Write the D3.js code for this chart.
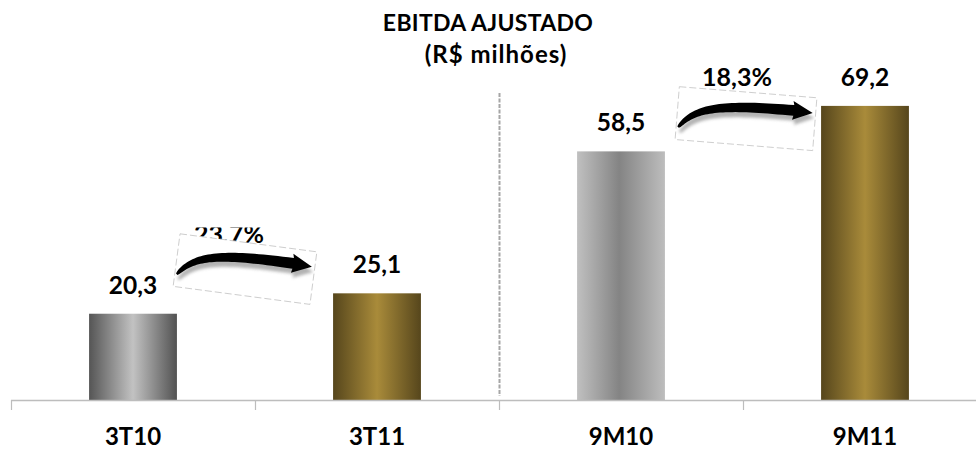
<!DOCTYPE html>
<html>
<head>
<meta charset="utf-8">
<script src="https://cdn.jsdelivr.net/npm/d3@7"></script>
<style>
  body { margin: 0; background: #fff; }
  svg { display: block; }
  text { font-family: Lato, "Open Sans", "DejaVu Sans", sans-serif; font-weight: 700; fill: #000; }
</style>
</head>
<body>
<script>
// ---- data ----
const categories = ["3T10", "3T11", "9M10", "9M11"];
const values = [20.3, 25.1, 58.5, 69.2];
const valueLabels = ["20,3", "25,1", "58,5", "69,2"];
const barStyles = ["grayDark", "gold", "grayLight", "gold"];
const growthLabels = ["23,7%", "18,3%"];
const growthPairs = [[0, 1], [2, 3]];
const titleLines = ["EBITDA AJUSTADO", "(R$ milhões)"];

// ---- layout ----
const W = 976, H = 450;
const baseY = 400;
const svg = d3.select("body").append("svg").attr("width", W).attr("height", H);
const defs = svg.append("defs");

const x = d3.scaleBand().domain(categories).range([11, 987]).paddingInner(0.64).paddingOuter(0.32);
const y = d3.scaleLinear().domain([0, 80]).range([baseY, 60]);
const bw = x.bandwidth();

// horizontal gradients for the cylinder-like bars
const gradients = {
  grayDark: [["0%", "#555555"], ["50%", "#c2c2c2"], ["100%", "#525252"]],
  grayLight: [["0%", "#c0c0c0"], ["48%", "#848484"], ["100%", "#bdbdbd"]],
  gold: [["0%", "#56461c"], ["50%", "#a98b3a"], ["100%", "#56461c"]]
};
Object.entries(gradients).forEach(([id, stops]) => {
  const g = defs.append("linearGradient").attr("id", id).attr("x1", "0").attr("x2", "1").attr("y1", "0").attr("y2", "0");
  stops.forEach(([o, c]) => g.append("stop").attr("offset", o).attr("stop-color", c));
});

const blur = defs.append("filter").attr("id", "soft").attr("x", "-20%").attr("y", "-40%").attr("width", "140%").attr("height", "180%");
blur.append("feGaussianBlur").attr("stdDeviation", 1.5);

// ---- title ----
svg.append("text").attr("x", 488).attr("y", 31).attr("text-anchor", "middle")
  .style("font-size", "23px").style("letter-spacing", "0.3px").text(titleLines[0]);
svg.append("text").attr("x", 496).attr("y", 63).attr("text-anchor", "middle")
  .style("font-size", "24px").style("letter-spacing", "1px").text(titleLines[1]);

// ---- separator between quarter and nine-month groups ----
const sepX = Math.round(x(categories[2]) - x.step() * x.paddingOuter()) + 0.5;
svg.append("line").attr("x1", sepX).attr("x2", sepX).attr("y1", 93).attr("y2", baseY - 4)
  .attr("stroke", "#a6a6a6").attr("stroke-width", 2).attr("stroke-dasharray", "4,1.5");

// ---- bars ----
svg.selectAll("rect.bar").data(values).join("rect").attr("class", "bar")
  .attr("x", (d, i) => x(categories[i]))
  .attr("y", d => y(d))
  .attr("width", bw)
  .attr("height", d => baseY - y(d))
  .attr("fill", (d, i) => `url(#${barStyles[i]})`);

// ---- value labels ----
svg.selectAll("text.val").data(values).join("text").attr("class", "val")
  .attr("x", (d, i) => x(categories[i]) + bw / 2)
  .attr("y", d => y(d) - 20)
  .attr("text-anchor", "middle")
  .style("font-size", "24.5px")
  .text((d, i) => valueLabels[i]);

// ---- axis ----
const axisG = svg.append("g");
axisG.append("line").attr("x1", 11).attr("x2", W).attr("y1", baseY + 0.5).attr("y2", baseY + 0.5)
  .attr("stroke", "#bdbdbd").attr("stroke-width", 1.5);
const tickXs = categories.map(c => Math.round(x(c) - x.step() * x.paddingOuter()) + 0.5);
axisG.selectAll("line.tick").data(tickXs).join("line").attr("class", "tick")
  .attr("x1", d => d).attr("x2", d => d).attr("y1", baseY).attr("y2", baseY + 10)
  .attr("stroke", "#bdbdbd").attr("stroke-width", 1.2);
axisG.selectAll("text.cat").data(categories).join("text").attr("class", "cat")
  .attr("x", d => x(d) + bw / 2).attr("y", 445)
  .attr("text-anchor", "middle").style("font-size", "24px").text(d => d);

// ---- growth arrows ----
// curved arrow drawn in the local frame of its (rotated) frame box
function arrowPath() {
  const P = [[-67, 14], [-52, -7], [-28, -12.5], [47, -12]];
  const N = 40, up = [], lo = [];
  for (let i = 0; i <= N; i++) {
    const s = i / N, t = 1 - s;
    const px = t*t*t*P[0][0] + 3*t*t*s*P[1][0] + 3*t*s*s*P[2][0] + s*s*s*P[3][0];
    const py = t*t*t*P[0][1] + 3*t*t*s*P[1][1] + 3*t*s*s*P[2][1] + s*s*s*P[3][1];
    const dx = 3*t*t*(P[1][0]-P[0][0]) + 6*t*s*(P[2][0]-P[1][0]) + 3*s*s*(P[3][0]-P[2][0]);
    const dy = 3*t*t*(P[1][1]-P[0][1]) + 6*t*s*(P[2][1]-P[1][1]) + 3*s*s*(P[3][1]-P[2][1]);
    const len = Math.hypot(dx, dy) || 1;
    const h = 1 + 4.4 * Math.sqrt(s);
    up.push([px + dy / len * h, py - dx / len * h]);
    lo.push([px - dy / len * h, py + dx / len * h]);
  }
  const e = P[3];
  const pts = up.concat([[e[0] - 1, e[1] - 9.5], [e[0] + 19, e[1] + 1], [e[0] - 1, e[1] + 9.5]], lo.reverse());
  return "M" + pts.map(p => p[0].toFixed(2) + "," + p[1].toFixed(2)).join("L") + "Z";
}

const arrowLayout = [
  { dx: -10, level: 30.8, angle: 7.5, textDx: -16, textDy: -26, clipTop: 15.5 },
  { dx: 3, level: 66.2, angle: 4.6, textDx: -9, textDy: -32.5, clipTop: null }
];

growthPairs.forEach(([a, b], k) => {
  const L = arrowLayout[k];
  const cx = (x(categories[a]) + bw + x(categories[b])) / 2 + L.dx;
  const cy = y(L.level);
  const tx = cx + L.textDx, ty = cy + L.textDy;

  const label = svg.append("text").attr("x", tx).attr("y", ty).attr("text-anchor", "middle")
    .style("font-size", "25px").text(growthLabels[k]);
  if (L.clipTop != null) {
    const cp = defs.append("clipPath").attr("id", "clipg" + k);
    cp.append("rect").attr("x", tx - 60).attr("y", ty - L.clipTop).attr("width", 120).attr("height", 40);
    label.attr("clip-path", `url(#clipg${k})`);
  }

  const g = svg.append("g").attr("transform", `translate(${cx},${cy}) rotate(${L.angle})`);
  g.append("rect").attr("x", -69).attr("y", -26.5).attr("width", 138).attr("height", 53)
    .attr("fill", "#fff").attr("stroke", "#c4c4c4").attr("stroke-width", 0.8).attr("stroke-dasharray", "7,3");
  g.append("path").attr("d", arrowPath()).attr("transform", "translate(2,5)")
    .attr("fill", "#9a9a9a").attr("opacity", 0.75).attr("filter", "url(#soft)");
  g.append("path").attr("d", arrowPath()).attr("fill", "#000");
});
</script>
</body>
</html>
